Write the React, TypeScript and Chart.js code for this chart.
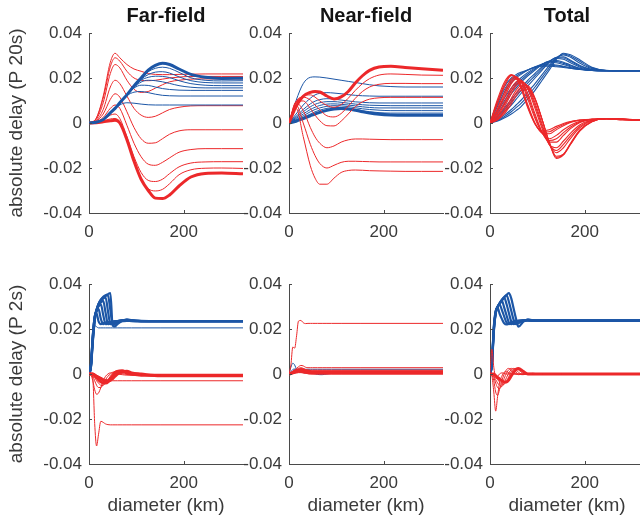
import { useEffect, useRef } from 'react';
import { Chart, registerables } from 'chart.js';

Chart.register(...registerables);
Chart.defaults.font.family = "'Liberation Sans', Arial, Helvetica, sans-serif";

// ---- shared axes ----
const X_MAX = 325;
const X_TICKS = [0, 200];
const Y_TICKS = [-0.04, -0.02, 0, 0.02, 0.04];
const Y_TICK_LABELS = ['-0.04', '-0.02', '0', '0.02', '0.04'];
const COLUMN_TITLES = ['Far-field', 'Near-field', 'Total'];
const ROW_LABELS = ['absolute delay (P 20s)', 'absolute delay (P 2s)'];
const X_LABEL = 'diameter (km)';

// diameters (km) sampled for the P 20s row and the P 2s row
const DIAM_20S = [0, 15, 30, 45, 55, 65, 80, 95, 110, 125, 140, 155, 170, 190, 215, 245, 280, 325];
const DIAM_2S = [0, 4, 8, 12, 16, 20, 25, 30, 35, 40, 45, 50, 55, 60, 70, 80, 90, 110, 150, 325];

// ---- P 20s, far-field ----
const FAR_20S_RED = [
  [0, 0.002, 0.012, 0.027, 0.031, 0.029, 0.026, 0.024, 0.023, 0.022, 0.0216, 0.0215, 0.0215, 0.0216, 0.0217, 0.0218, 0.0218, 0.0218],
  [0, 0.002, 0.011, 0.025, 0.029, 0.0275, 0.023, 0.020, 0.019, 0.0188, 0.019, 0.0195, 0.020, 0.0204, 0.0207, 0.0207, 0.0207, 0.0207],
  [0, 0.0015, 0.009, 0.022, 0.026, 0.0245, 0.019, 0.015, 0.0136, 0.014, 0.0155, 0.017, 0.0183, 0.019, 0.0195, 0.0196, 0.0196, 0.0196],
  [0, 0.001, 0.006, 0.016, 0.019, 0.0175, 0.012, 0.0065, 0.0035, 0.0025, 0.003, 0.0045, 0.006, 0.007, 0.0076, 0.0077, 0.0077, 0.0077],
  [0, 0.0008, 0.004, 0.0105, 0.013, 0.0115, 0.005, -0.002, -0.007, -0.009, -0.0088, -0.007, -0.005, -0.0035, -0.003, -0.003, -0.003, -0.003],
  [0, 0.0005, 0.0025, 0.0065, 0.008, 0.0065, -0.001, -0.009, -0.015, -0.0183, -0.0188, -0.0175, -0.0155, -0.013, -0.0118, -0.0114, -0.0114, -0.0114],
  [0, 0.0003, 0.0015, 0.0035, 0.004, 0.002, -0.006, -0.015, -0.022, -0.0255, -0.026, -0.025, -0.0225, -0.0195, -0.0178, -0.0173, -0.0172, -0.0172],
  [0, 0.0002, 0.001, 0.0018, 0.002, 0.0005, -0.007, -0.017, -0.025, -0.0292, -0.0302, -0.0295, -0.027, -0.023, -0.0208, -0.0201, -0.020, -0.0202],
  [0, 0.0001, 0.0005, 0.001, 0.0012, 0.0, -0.0074, -0.017, -0.025, -0.030, -0.0334, -0.0336, -0.032, -0.028, -0.024, -0.0224, -0.0222, -0.0226],
];
const FAR_20S_BLUE = [
  [0, 0.0003, 0.0015, 0.0045, 0.0065, 0.009, 0.0125, 0.0165, 0.020, 0.0235, 0.0256, 0.0266, 0.026, 0.024, 0.0216, 0.0203, 0.0198, 0.0199],
  [0, 0.0003, 0.0015, 0.0045, 0.0065, 0.009, 0.0125, 0.0165, 0.020, 0.0228, 0.0243, 0.0248, 0.0243, 0.0225, 0.0201, 0.019, 0.0187, 0.0188],
  [0, 0.0003, 0.0015, 0.0045, 0.0065, 0.009, 0.0125, 0.0163, 0.0195, 0.0215, 0.0226, 0.0228, 0.0222, 0.0205, 0.0188, 0.018, 0.0178, 0.0178],
  [0, 0.0003, 0.0015, 0.0045, 0.0065, 0.009, 0.0125, 0.016, 0.019, 0.0203, 0.0208, 0.0207, 0.0202, 0.0188, 0.0175, 0.0168, 0.0166, 0.0166],
  [0, 0.0003, 0.0015, 0.0045, 0.0065, 0.009, 0.0125, 0.0158, 0.0182, 0.019, 0.0188, 0.0183, 0.0176, 0.0166, 0.0159, 0.0156, 0.0156, 0.0156],
  [0, 0.0003, 0.0015, 0.0045, 0.0065, 0.009, 0.0125, 0.0155, 0.0168, 0.0167, 0.016, 0.0153, 0.0149, 0.0146, 0.0145, 0.0145, 0.0145, 0.0145],
  [0, 0.0003, 0.0015, 0.0045, 0.0065, 0.009, 0.0122, 0.0137, 0.014, 0.0135, 0.0128, 0.0123, 0.0121, 0.012, 0.012, 0.012, 0.012, 0.012],
  [0, 0.0003, 0.0015, 0.0044, 0.0062, 0.008, 0.009, 0.0088, 0.0084, 0.0081, 0.008, 0.008, 0.008, 0.008, 0.008, 0.008, 0.008, 0.008],
];

// ---- P 20s, near-field ----
const NEAR_20S_RED = [
  [0, 0.0074, 0.0119, 0.0136, 0.014, 0.0138, 0.012, 0.0107, 0.0116, 0.014, 0.0178, 0.021, 0.0234, 0.0249, 0.0252, 0.0247, 0.0241, 0.0234],
  [0, 0.009, 0.012, 0.0125, 0.0115, 0.0098, 0.0078, 0.007, 0.0082, 0.011, 0.0145, 0.0175, 0.0197, 0.0213, 0.0218, 0.0216, 0.0213, 0.0212],
  [0, 0.0095, 0.0115, 0.0102, 0.008, 0.0058, 0.0032, 0.0027, 0.0042, 0.0075, 0.011, 0.014, 0.016, 0.0172, 0.0176, 0.0176, 0.0175, 0.0175],
  [0, 0.0095, 0.0098, 0.0065, 0.0035, 0.001, -0.0012, -0.0013, 0.0008, 0.004, 0.0073, 0.0094, 0.0106, 0.0112, 0.0114, 0.0114, 0.0114, 0.0114],
  [0, 0.009, 0.0055, -0.002, -0.0062, -0.009, -0.011, -0.0102, -0.0085, -0.0075, -0.0071, -0.0071, -0.0072, -0.0073, -0.0074, -0.0074, -0.0074, -0.0074],
  [0, 0.008, 0.0, -0.0095, -0.0145, -0.018, -0.020, -0.0188, -0.0175, -0.017, -0.017, -0.0171, -0.0172, -0.0173, -0.0173, -0.0173, -0.0173, -0.0173],
  [0, 0.0065, -0.006, -0.019, -0.0245, -0.0272, -0.0272, -0.0245, -0.022, -0.0211, -0.0209, -0.021, -0.0212, -0.0213, -0.0214, -0.0215, -0.0215, -0.0215],
];
const NEAR_20S_BLUE = [
  [0, 0.010, 0.0175, 0.0203, 0.0205, 0.0204, 0.020, 0.0195, 0.019, 0.0185, 0.018, 0.0175, 0.017, 0.0165, 0.0162, 0.016, 0.016, 0.016],
  [0, 0.004, 0.008, 0.011, 0.0125, 0.0132, 0.0135, 0.0133, 0.013, 0.0126, 0.0123, 0.0121, 0.012, 0.0119, 0.0119, 0.0119, 0.0119, 0.0119],
  [0, 0.003, 0.006, 0.0085, 0.0097, 0.0104, 0.0108, 0.0106, 0.0102, 0.0098, 0.0094, 0.0092, 0.009, 0.0089, 0.0089, 0.0089, 0.0089, 0.0089],
  [0, 0.0025, 0.005, 0.0072, 0.0083, 0.009, 0.0095, 0.0095, 0.0092, 0.0088, 0.0084, 0.0081, 0.0079, 0.0078, 0.0077, 0.0077, 0.0077, 0.0077],
  [0, 0.002, 0.004, 0.006, 0.007, 0.0078, 0.0084, 0.0085, 0.0083, 0.008, 0.0076, 0.0072, 0.0069, 0.0067, 0.0067, 0.0067, 0.0067, 0.0067],
  [0, 0.0015, 0.0032, 0.005, 0.006, 0.0067, 0.0074, 0.0077, 0.0076, 0.0073, 0.0068, 0.0063, 0.006, 0.0057, 0.0055, 0.0055, 0.0055, 0.0055],
  [0, 0.001, 0.0025, 0.004, 0.005, 0.0057, 0.0065, 0.0069, 0.0069, 0.0066, 0.0061, 0.0055, 0.005, 0.0046, 0.0044, 0.0044, 0.0044, 0.0044],
  [0, 0.0008, 0.002, 0.0032, 0.004, 0.0047, 0.0056, 0.0062, 0.0064, 0.0062, 0.0057, 0.005, 0.0044, 0.0039, 0.0036, 0.0035, 0.0035, 0.0035],
];

// ---- P 20s, total ----
const TOTAL_20S_RED = [
  [0, 0.010, 0.018, 0.0215, 0.020, 0.0155, 0.0065, -0.0005, -0.0035, -0.003, -0.0015, -0.0002, 0.0007, 0.0013, 0.0017, 0.0018, 0.0015, 0.0012],
  [0, 0.009, 0.017, 0.0213, 0.0203, 0.0163, 0.0072, -0.0003, -0.004, -0.0039, -0.0022, -0.0007, 0.0005, 0.0013, 0.0017, 0.0018, 0.0015, 0.0012],
  [0, 0.008, 0.016, 0.021, 0.0205, 0.017, 0.008, 0.0, -0.0045, -0.0048, -0.003, -0.0012, 0.0002, 0.0012, 0.0017, 0.0018, 0.0015, 0.0012],
  [0, 0.006, 0.0135, 0.0195, 0.0205, 0.0185, 0.0105, 0.002, -0.0045, -0.007, -0.0055, -0.003, -0.001, 0.0008, 0.0016, 0.0019, 0.0016, 0.0012],
  [0, 0.0052, 0.0122, 0.0185, 0.020, 0.0188, 0.0118, 0.003, -0.0043, -0.0078, -0.007, -0.0043, -0.0018, 0.0005, 0.0016, 0.0019, 0.0016, 0.0012],
  [0, 0.0045, 0.011, 0.0175, 0.0195, 0.019, 0.013, 0.004, -0.004, -0.0085, -0.0085, -0.0055, -0.0025, 0.0002, 0.0015, 0.0019, 0.0016, 0.0012],
  [0, 0.0035, 0.009, 0.0155, 0.0183, 0.019, 0.015, 0.0065, -0.0025, -0.0095, -0.011, -0.008, -0.0045, -0.0008, 0.0013, 0.002, 0.0017, 0.0012],
  [0, 0.003, 0.008, 0.0143, 0.0174, 0.0185, 0.0157, 0.0078, -0.0015, -0.0095, -0.0122, -0.0095, -0.0057, -0.0014, 0.0012, 0.002, 0.0017, 0.0012],
  [0, 0.0025, 0.007, 0.013, 0.0165, 0.018, 0.0163, 0.009, -0.0005, -0.0095, -0.0132, -0.011, -0.0068, -0.002, 0.001, 0.002, 0.0017, 0.0012],
  [0, 0.0018, 0.0055, 0.011, 0.0145, 0.0165, 0.0165, 0.011, 0.0015, -0.0085, -0.0148, -0.0138, -0.009, -0.003, 0.0007, 0.002, 0.0018, 0.0012],
  [0, 0.0015, 0.0048, 0.0098, 0.0133, 0.0155, 0.0158, 0.0108, 0.0015, -0.0085, -0.0153, -0.014, -0.0093, -0.0033, 0.0006, 0.002, 0.0018, 0.0012],
  [0, 0.0012, 0.004, 0.0085, 0.012, 0.0145, 0.015, 0.0105, 0.0015, -0.0085, -0.0158, -0.0142, -0.0095, -0.0035, 0.0005, 0.002, 0.0018, 0.0012],
];
const TOTAL_20S_BLUE = [
  [0, 0.009, 0.016, 0.020, 0.0215, 0.0225, 0.0237, 0.0247, 0.0253, 0.0253, 0.025, 0.0247, 0.0243, 0.0238, 0.0234, 0.0233, 0.0233, 0.0233],
  [0, 0.008, 0.0148, 0.019, 0.0208, 0.022, 0.0236, 0.0249, 0.0257, 0.0258, 0.0254, 0.025, 0.0244, 0.0238, 0.0234, 0.0233, 0.0233, 0.0233],
  [0, 0.007, 0.0135, 0.018, 0.020, 0.0215, 0.0235, 0.025, 0.026, 0.0262, 0.0258, 0.0252, 0.0246, 0.0239, 0.0234, 0.0233, 0.0233, 0.0233],
  [0, 0.0055, 0.011, 0.0155, 0.018, 0.020, 0.0225, 0.0245, 0.0262, 0.027, 0.0268, 0.026, 0.025, 0.024, 0.0234, 0.0233, 0.0233, 0.0233],
  [0, 0.0048, 0.0098, 0.0143, 0.0168, 0.019, 0.0218, 0.024, 0.0261, 0.0273, 0.0273, 0.0265, 0.0254, 0.0241, 0.0234, 0.0233, 0.0233, 0.0233],
  [0, 0.004, 0.0085, 0.013, 0.0155, 0.018, 0.021, 0.0235, 0.026, 0.0275, 0.0278, 0.027, 0.0258, 0.0243, 0.0235, 0.0233, 0.0233, 0.0233],
  [0, 0.003, 0.0065, 0.0105, 0.013, 0.0155, 0.019, 0.022, 0.025, 0.0275, 0.0287, 0.0283, 0.0268, 0.0248, 0.0236, 0.0233, 0.0233, 0.0233],
  [0, 0.0025, 0.0058, 0.0093, 0.0118, 0.0143, 0.0178, 0.021, 0.0243, 0.0273, 0.029, 0.0289, 0.0274, 0.0252, 0.0237, 0.0233, 0.0233, 0.0233],
  [0, 0.002, 0.005, 0.008, 0.0105, 0.013, 0.0165, 0.020, 0.0235, 0.027, 0.0292, 0.0294, 0.0279, 0.0256, 0.0238, 0.0233, 0.0233, 0.0233],
  [0, 0.0014, 0.0035, 0.006, 0.008, 0.010, 0.0137, 0.0175, 0.0215, 0.0255, 0.029, 0.0303, 0.0292, 0.0266, 0.0242, 0.0233, 0.0232, 0.0233],
  [0, 0.0011, 0.0028, 0.005, 0.0068, 0.0086, 0.0122, 0.016, 0.0203, 0.0245, 0.0287, 0.0307, 0.0298, 0.0273, 0.0245, 0.0233, 0.0232, 0.0233],
  [0, 0.0008, 0.0022, 0.004, 0.0055, 0.0072, 0.0107, 0.0145, 0.019, 0.0235, 0.0283, 0.031, 0.0303, 0.028, 0.0248, 0.0234, 0.0232, 0.0233],
];

// ---- P 2s, far-field ----
const FAR_2S_RED = [
  [0, 0.0, -0.002, -0.022, -0.032, -0.027, -0.021, -0.0215, -0.0222, -0.0225, -0.0226, -0.0226, -0.0226, -0.0226, -0.0226, -0.0226, -0.0226, -0.0226, -0.0226, -0.0226],
  [0, -0.0005, -0.003, -0.007, -0.009, -0.0085, -0.006, -0.003, -0.001, 0.0, 0.0005, 0.0005, 0.0003, 0.0, -0.0003, -0.0005, -0.0005, -0.0005, -0.0005, -0.0005],
  [0, 0.0, -0.001, -0.003, -0.005, -0.006, -0.006, -0.0045, -0.0025, -0.001, 0.0, 0.0008, 0.001, 0.0008, 0.0002, -0.0002, -0.0005, -0.0005, -0.0005, -0.0005],
  [0, 0.0, -0.0005, -0.0015, -0.003, -0.004, -0.005, -0.005, -0.004, -0.0025, -0.001, 0.0003, 0.0012, 0.0015, 0.0008, 0.0, -0.0003, -0.0005, -0.0005, -0.0005],
  [0, 0.0, 0.0, -0.0008, -0.0015, -0.0025, -0.0035, -0.004, -0.004, -0.0035, -0.002, -0.0008, 0.0005, 0.0012, 0.0015, 0.0005, 0.0, -0.0005, -0.0005, -0.0005],
  [0, 0.0, 0.0, -0.0005, -0.001, -0.0015, -0.002, -0.0028, -0.003, -0.003, -0.0028, -0.002, -0.001, 0.0, 0.001, 0.0012, 0.0005, 0.0, -0.0008, -0.0008],
  [0, 0.0, 0.0, 0.0, -0.0005, -0.001, -0.0015, -0.002, -0.0025, -0.0028, -0.003, -0.003, -0.003, -0.003, -0.003, -0.003, -0.003, -0.003, -0.003, -0.003],
];
const FAR_2S_BLUE = [
  [0, 0.004, 0.018, 0.0215, 0.021, 0.0205, 0.0205, 0.0205, 0.0205, 0.0205, 0.0205, 0.0205, 0.0205, 0.0205, 0.0205, 0.0205, 0.0205, 0.0205, 0.0205, 0.0205],
  [0, 0.004, 0.017, 0.025, 0.027, 0.0235, 0.0222, 0.0226, 0.0229, 0.023, 0.0232, 0.0233, 0.0233, 0.0234, 0.0235, 0.0236, 0.0235, 0.0235, 0.0235, 0.0235],
  [0, 0.004, 0.017, 0.0255, 0.028, 0.029, 0.0245, 0.0222, 0.0226, 0.0229, 0.0231, 0.0233, 0.0234, 0.0235, 0.0236, 0.0237, 0.0236, 0.0235, 0.0235, 0.0235],
  [0, 0.0035, 0.0165, 0.0255, 0.0285, 0.030, 0.031, 0.0262, 0.0222, 0.0225, 0.0229, 0.0232, 0.0234, 0.0235, 0.0237, 0.0238, 0.0236, 0.0235, 0.0235, 0.0235],
  [0, 0.0035, 0.016, 0.025, 0.0285, 0.0305, 0.0318, 0.0325, 0.0272, 0.0222, 0.0225, 0.0229, 0.0233, 0.0235, 0.0238, 0.0239, 0.0237, 0.0235, 0.0235, 0.0235],
  [0, 0.003, 0.015, 0.0245, 0.0285, 0.031, 0.0325, 0.0335, 0.034, 0.028, 0.0222, 0.0224, 0.0229, 0.0233, 0.0238, 0.024, 0.0238, 0.0235, 0.0235, 0.0235],
  [0, 0.003, 0.0145, 0.024, 0.0285, 0.031, 0.033, 0.034, 0.0347, 0.035, 0.0285, 0.022, 0.0222, 0.0228, 0.0237, 0.0241, 0.0238, 0.0235, 0.0235, 0.0235],
  [0, 0.0028, 0.014, 0.0235, 0.028, 0.031, 0.033, 0.0343, 0.035, 0.0355, 0.036, 0.0215, 0.0212, 0.0222, 0.0236, 0.0243, 0.0239, 0.0236, 0.0235, 0.0235],
];

// ---- P 2s, near-field ----
const NEAR_2S_RED = [
  [0, 0.004, 0.012, 0.0115, 0.017, 0.0235, 0.0238, 0.0228, 0.0224, 0.0225, 0.0225, 0.0225, 0.0225, 0.0225, 0.0225, 0.0225, 0.0225, 0.0225, 0.0225, 0.0225],
  [0, 0.0005, 0.0012, 0.0018, 0.0025, 0.0032, 0.0038, 0.0036, 0.003, 0.0028, 0.0028, 0.0028, 0.0028, 0.0028, 0.0028, 0.0028, 0.0028, 0.0028, 0.0028, 0.0028],
  [0, 0.0005, 0.001, 0.0015, 0.002, 0.0025, 0.0028, 0.0025, 0.002, 0.0018, 0.0017, 0.0017, 0.0017, 0.0017, 0.0017, 0.0017, 0.0017, 0.0017, 0.0017, 0.0017],
  [0, 0.0003, 0.0008, 0.0012, 0.0015, 0.0018, 0.002, 0.0018, 0.0015, 0.0012, 0.0011, 0.001, 0.001, 0.001, 0.001, 0.001, 0.001, 0.001, 0.001, 0.001],
  [0, 0.0002, 0.0005, 0.0008, 0.001, 0.0012, 0.0012, 0.001, 0.0008, 0.0006, 0.0005, 0.0005, 0.0005, 0.0005, 0.0005, 0.0005, 0.0005, 0.0005, 0.0005, 0.0005],
  [0, 0.0001, 0.0002, 0.0004, 0.0005, 0.0006, 0.0006, 0.0005, 0.0003, 0.0002, 0.0001, 0.0, 0.0, 0.0, 0.0, 0.0, 0.0, 0.0, 0.0, 0.0],
];
const NEAR_2S_BLUE = [
  [0, 0.003, 0.0048, 0.004, 0.002, 0.001, 0.0008, 0.0006, 0.0005, 0.0004, 0.0003, 0.0003, 0.0004, 0.0005, 0.0005, 0.0005, 0.0005, 0.0005, 0.0005, 0.0005],
  [0, 0.001, 0.002, 0.0022, 0.002, 0.0015, 0.0012, 0.001, 0.0008, 0.0006, 0.0005, 0.0003, 0.0001, -0.0002, -0.0003, 0.0, 0.0003, 0.0005, 0.0005, 0.0005],
  [0, 0.0005, 0.0012, 0.0018, 0.002, 0.0021, 0.0021, 0.0021, 0.0021, 0.0021, 0.0021, 0.0021, 0.0021, 0.0021, 0.0021, 0.0021, 0.0021, 0.0021, 0.0021, 0.0021],
];

// ---- P 2s, total ----
const TOTAL_2S_RED = [
  [0, 0.011, 0.003, -0.001, -0.001, 0.0, 0.0005, 0.0003, 0.0, 0.0, 0.0, 0.0, 0.0, 0.0, 0.0, 0.0, 0.0, 0.0, 0.0, 0.0],
  [0, -0.001, -0.008, -0.0165, -0.010, -0.004, -0.001, 0.0008, 0.001, 0.0005, 0.0, 0.0, 0.0, 0.0, 0.0, 0.0, 0.0, 0.0, 0.0, 0.0],
  [0, -0.0005, -0.003, -0.008, -0.0095, -0.007, -0.003, 0.0, 0.002, 0.0025, 0.0015, 0.0005, 0.0, -0.0003, 0.0, 0.0003, 0.0002, 0.0, 0.0, 0.0],
  [0, 0.0, -0.0015, -0.004, -0.006, -0.0065, -0.005, -0.002, 0.0005, 0.002, 0.0025, 0.0018, 0.0008, 0.0, -0.0003, 0.0002, 0.0003, 0.0, 0.0, 0.0],
  [0, 0.0, -0.001, -0.0025, -0.004, -0.005, -0.0055, -0.004, -0.0015, 0.0005, 0.002, 0.0025, 0.0018, 0.0008, -0.0002, 0.0, 0.0003, 0.0, 0.0, 0.0],
  [0, 0.0, -0.0005, -0.0015, -0.0025, -0.0035, -0.0045, -0.0045, -0.003, -0.001, 0.001, 0.0022, 0.0025, 0.0018, 0.0003, -0.0002, 0.0002, 0.0, 0.0, 0.0],
  [0, 0.0, 0.0, -0.0008, -0.0015, -0.0022, -0.003, -0.0035, -0.0035, -0.0025, -0.0008, 0.0008, 0.002, 0.0025, 0.0012, 0.0, 0.0, 0.0, 0.0, 0.0],
];
const TOTAL_2S_BLUE = [
  [0, 0.005, 0.021, 0.028, 0.0295, 0.027, 0.0245, 0.0225, 0.022, 0.0225, 0.023, 0.0233, 0.0235, 0.0236, 0.0237, 0.0237, 0.0237, 0.0237, 0.0237, 0.0237],
  [0, 0.0048, 0.0205, 0.0278, 0.0298, 0.031, 0.0285, 0.0255, 0.0228, 0.0222, 0.0226, 0.0232, 0.0235, 0.0236, 0.0237, 0.0238, 0.0237, 0.0237, 0.0237, 0.0237],
  [0, 0.0045, 0.020, 0.0275, 0.0298, 0.031, 0.0325, 0.0295, 0.026, 0.0228, 0.0222, 0.0228, 0.0234, 0.0236, 0.0238, 0.0239, 0.0237, 0.0237, 0.0237, 0.0237],
  [0, 0.004, 0.0195, 0.0272, 0.0298, 0.0312, 0.0326, 0.034, 0.031, 0.027, 0.0232, 0.0222, 0.0228, 0.0234, 0.0239, 0.024, 0.0238, 0.0237, 0.0237, 0.0237],
  [0, 0.0038, 0.019, 0.027, 0.0298, 0.0313, 0.0328, 0.034, 0.035, 0.032, 0.028, 0.024, 0.0222, 0.0226, 0.0236, 0.0241, 0.0238, 0.0237, 0.0237, 0.0237],
  [0, 0.0035, 0.0185, 0.0268, 0.0298, 0.0314, 0.033, 0.0342, 0.0352, 0.036, 0.0335, 0.029, 0.0245, 0.021, 0.0232, 0.0243, 0.0238, 0.0237, 0.0237, 0.0237],
];

// ---- styling ----
const RED = 'rgb(236, 40, 42)';
const BLUE = 'rgb(28, 86, 166)';
const AXIS_COLOR = '#4a4a4a';
const TICK_COLOR = '#3a3a3a';
const TITLE_COLOR = '#141414';

const PLOT_LEFTS = [89, 289, 490];
const PLOT_W = 154;
const AXIS_W_FIRST = 89;
const AXIS_W_OTHER = 60;
const RIGHT_PAD = 4;

type Panel = {
  xs: number[];
  red: number[][];
  blue: number[][];
  redW: (i: number) => number;
  blueW: (i: number) => number;
  blueOnTop: boolean;
  col: number;
  row: number;
};

const PANELS: Panel[] = [
  { xs: DIAM_20S, red: FAR_20S_RED, blue: FAR_20S_BLUE, redW: (i) => (i === 8 ? 3 : 1), blueW: (i) => (i === 0 ? 3 : 1), blueOnTop: true, col: 0, row: 0 },
  { xs: DIAM_20S, red: NEAR_20S_RED, blue: NEAR_20S_BLUE, redW: (i) => (i === 0 ? 3 : 1), blueW: (i) => (i === 7 ? 3 : 1), blueOnTop: false, col: 1, row: 0 },
  { xs: DIAM_20S, red: TOTAL_20S_RED, blue: TOTAL_20S_BLUE, redW: () => 1.1, blueW: () => 1.1, blueOnTop: false, col: 2, row: 0 },
  { xs: DIAM_2S, red: FAR_2S_RED, blue: FAR_2S_BLUE, redW: (i) => (i === 4 || i === 5 ? 3 : 1), blueW: (i) => (i === 0 ? 1 : 2.2), blueOnTop: false, col: 0, row: 1 },
  { xs: DIAM_2S, red: NEAR_2S_RED, blue: NEAR_2S_BLUE, redW: (i) => (i === 3 || i === 4 ? 3 : 1), blueW: () => 1, blueOnTop: false, col: 1, row: 1 },
  { xs: DIAM_2S, red: TOTAL_2S_RED, blue: TOTAL_2S_BLUE, redW: (i) => (i === 6 ? 3 : 1), blueW: () => 2.2, blueOnTop: false, col: 2, row: 1 },
];

// MATLAB-style short tick marks pointing into the plot area
const inwardTicks = {
  id: 'inwardTicks',
  afterDatasetsDraw(chart: any) {
    const { ctx, chartArea, scales } = chart;
    ctx.save();
    ctx.strokeStyle = AXIS_COLOR;
    ctx.lineWidth = 1;
    ctx.beginPath();
    for (const t of scales.x.ticks) {
      const px = Math.round(scales.x.getPixelForValue(t.value)) + 0.5;
      ctx.moveTo(px, chartArea.bottom);
      ctx.lineTo(px, chartArea.bottom - 3);
    }
    for (const t of scales.y.ticks) {
      const py = Math.round(scales.y.getPixelForValue(t.value)) + 0.5;
      ctx.moveTo(chartArea.left, py);
      ctx.lineTo(chartArea.left + 3, py);
    }
    ctx.stroke();
    ctx.restore();
  },
};

function makeSeries(xs: number[], values: number[][], color: string, widthOf: (i: number) => number) {
  return values.map((ys, i) => ({
    data: xs.map((x, j) => ({ x, y: ys[j] })),
    borderColor: color,
    borderWidth: widthOf(i),
    pointRadius: 0,
    fill: false,
    cubicInterpolationMode: 'monotone' as const,
  }));
}

function PanelChart({ panel }: { panel: Panel }) {
  const ref = useRef<HTMLCanvasElement>(null);
  const axisW = panel.col === 0 ? AXIS_W_FIRST : AXIS_W_OTHER;
  const left = PLOT_LEFTS[panel.col] - axisW;
  const width = axisW + PLOT_W + RIGHT_PAD;
  const top = panel.row === 0 ? 0 : 250;
  const height = panel.row === 0 ? 262 : 267;
  const xAxisH = panel.row === 0 ? 49 : 53;

  useEffect(() => {
    const reds = makeSeries(panel.xs, panel.red, RED, panel.redW);
    const blues = makeSeries(panel.xs, panel.blue, BLUE, panel.blueW);
    const datasets = panel.blueOnTop ? [...blues, ...reds] : [...reds, ...blues];
    const chart = new Chart(ref.current as HTMLCanvasElement, {
      type: 'line',
      data: { datasets },
      plugins: [inwardTicks],
      options: {
        animation: false,
        responsive: false,
        events: [],
        layout: { padding: { top: panel.row === 0 ? 0 : 34, right: RIGHT_PAD, left: 0, bottom: 0 } },
        plugins: {
          legend: { display: false },
          tooltip: { enabled: false },
          title: {
            display: panel.row === 0,
            text: COLUMN_TITLES[panel.col],
            fullSize: false,
            color: TITLE_COLOR,
            font: { size: 20, weight: 'bold' },
            padding: { top: 4, bottom: 5 },
          },
        },
        scales: {
          x: {
            type: 'linear',
            min: 0,
            max: X_MAX,
            afterBuildTicks: (s: any) => { s.ticks = X_TICKS.map((v) => ({ value: v })); },
            afterFit: (s: any) => { s.height = xAxisH; },
            grid: { display: true, drawOnChartArea: false, drawTicks: false },
            border: { display: true, color: AXIS_COLOR, width: 1 },
            ticks: { color: TICK_COLOR, font: { size: 17 }, padding: 9, maxRotation: 0, autoSkip: false },
            title: {
              display: panel.row === 1,
              text: X_LABEL,
              color: TICK_COLOR,
              font: { size: 19 },
              padding: { top: 0, bottom: 0 },
            },
          },
          y: {
            type: 'linear',
            min: -0.04,
            max: 0.04,
            afterBuildTicks: (s: any) => { s.ticks = Y_TICKS.map((v) => ({ value: v })); },
            afterFit: (s: any) => { s.width = axisW; },
            grid: { display: true, drawOnChartArea: false, drawTicks: false },
            border: { display: true, color: AXIS_COLOR, width: 1 },
            ticks: {
              color: TICK_COLOR,
              font: { size: 17 },
              padding: 7,
              autoSkip: false,
              callback: (_v: any, i: number) => Y_TICK_LABELS[i],
            },
            title: {
              display: panel.col === 0,
              text: ROW_LABELS[panel.row],
              color: TICK_COLOR,
              font: { size: 19 },
              padding: { top: 5, bottom: 0 },
            },
          },
        },
      } as any,
    });
    return () => chart.destroy();
  }, []);

  return (
    <canvas
      ref={ref}
      width={width}
      height={height}
      style={{ position: 'absolute', left, top, width, height }}
    />
  );
}

export default function App() {
  return (
    <div
      style={{
        position: 'fixed',
        left: 0,
        top: 0,
        width: 640,
        height: 517,
        overflow: 'hidden',
        background: '#ffffff',
      }}
    >
      {PANELS.map((p, i) => (
        <PanelChart key={i} panel={p} />
      ))}
    </div>
  );
}
